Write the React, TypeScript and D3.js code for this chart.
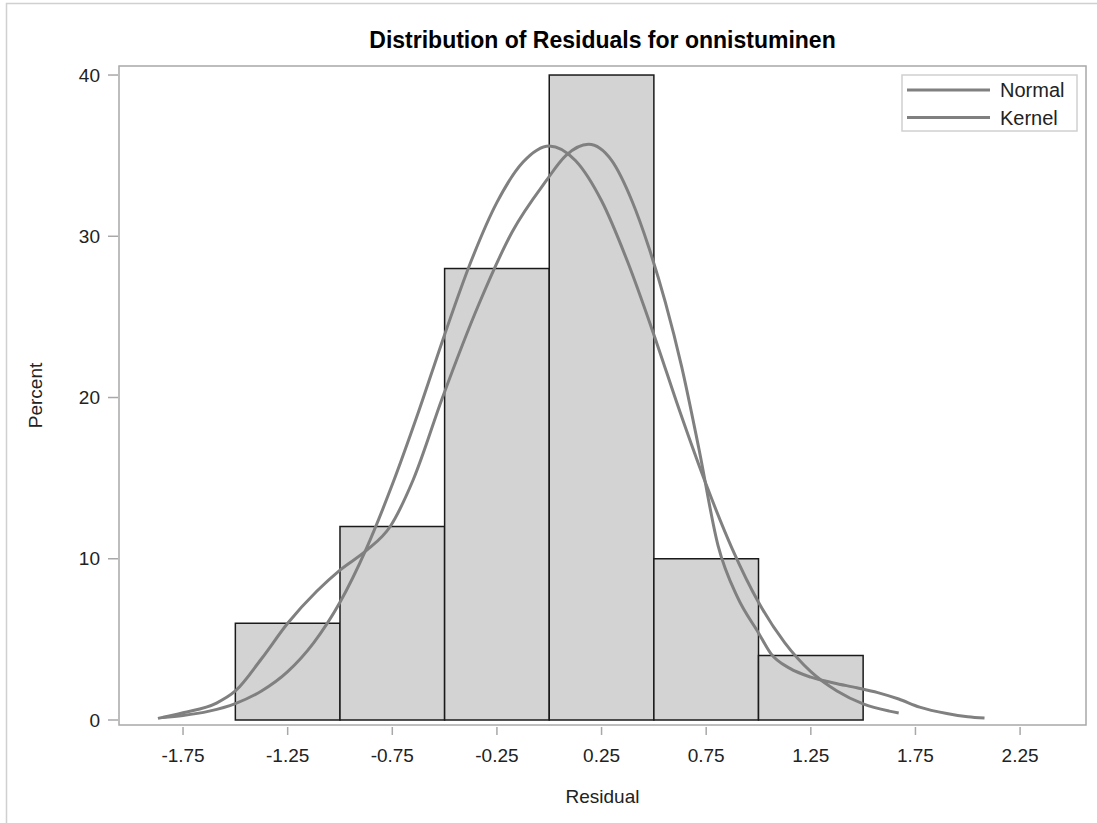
import * as d3 from 'd3';

// histogram bins (left edge, right edge) and percent
const binStarts = [-1.5, -1.0, -0.5, 0.0, 0.5, 1.0];
const binWidth = 0.5;
const binPercent = [6, 12, 28, 40, 10, 4];

// normal density curve (percent)
const normalX = [-1.85, -1.75, -1.625, -1.5, -1.375, -1.25, -1.125, -1.0, -0.875, -0.75, -0.625, -0.5, -0.375, -0.25, -0.125, 0.0,
  0.125, 0.25, 0.375, 0.5, 0.625, 0.75, 0.875, 1.0, 1.125, 1.25, 1.375, 1.5, 1.625, 1.67];
const normalY = [0.16, 0.28, 0.55, 1.02, 1.8, 3.0, 4.8, 7.3, 10.6, 14.6, 19.1, 23.9, 28.4, 32.1, 34.6, 35.6,
  34.7, 32.2, 28.4, 23.9, 19.1, 14.6, 10.6, 7.3, 4.8, 3.0, 1.8, 1.0, 0.55, 0.43];

// kernel density curve (percent)
const kernelX = [-1.87, -1.75, -1.59, -1.5, -1.375, -1.25, -1.11, -1.0, -0.875, -0.76, -0.65, -0.51, -0.336, -0.176, -0.017, 0.079, 0.188,
  0.298, 0.395, 0.476, 0.555, 0.633, 0.714, 0.807, 0.9, 1.0, 1.06, 1.15, 1.25, 1.36, 1.47, 1.57, 1.67, 1.77, 1.9, 2.0, 2.08];
const kernelY = [0.1, 0.45, 1.05, 1.8, 3.8, 6.0, 8.0, 9.3, 10.5, 12.0, 14.9, 20.0, 25.8, 30.3, 33.4, 35.0, 35.7,
  34.7, 32.2, 29.3, 25.9, 21.9, 16.9, 10.8, 7.6, 5.4, 4.1, 3.2, 2.66, 2.3, 2.0, 1.7, 1.3, 0.8, 0.4, 0.2, 0.12];

const xTicks = [-1.75, -1.25, -0.75, -0.25, 0.25, 0.75, 1.25, 1.75, 2.25];
const yTicks = [0, 10, 20, 30, 40];
const legendNames = ['Normal', 'Kernel'];

const W = 1097;
const H = 823;
const plot = { left: 119, right: 1086, top: 66, bottom: 725 };
const font = '"Liberation Sans", Arial, sans-serif';
const curveColor = '#808080';

export default function App() {
  const x = d3.scaleLinear().domain([-2.056, 2.565]).range([plot.left, plot.right]);
  const y = d3.scaleLinear().domain([-0.31, 40.56]).range([plot.bottom, plot.top]);

  const line = d3.line<[number, number]>()
    .x(d => x(d[0]))
    .y(d => y(d[1]))
    .curve(d3.curveMonotoneX);

  const normalPath = line(normalX.map((v, i) => [v, normalY[i]] as [number, number])) || '';
  const kernelPath = line(kernelX.map((v, i) => [v, kernelY[i]] as [number, number])) || '';

  return (
    <svg width={W} height={H} style={{ position: 'absolute', left: 0, top: 0, background: '#fff' }} fontFamily={font}>
      {/* outer graph border */}
      <rect x={6.5} y={3.5} width={W + 10} height={H + 10} fill="none" stroke="#d0d0d0" strokeWidth={1.5} />

      <text x={(plot.left + plot.right) / 2} y={48} textAnchor="middle" fontSize={23} fontWeight="bold" fill="#000">
        Distribution of Residuals for onnistuminen
      </text>

      {/* bars */}
      {binStarts.map((b, i) => (
        <rect key={i} x={x(b)} y={y(binPercent[i])} width={x(b + binWidth) - x(b)} height={y(0) - y(binPercent[i])}
          fill="#d3d3d3" stroke="#1a1a1a" strokeWidth={1.5} />
      ))}

      {/* curves */}
      <path d={normalPath} fill="none" stroke={curveColor} strokeWidth={3} strokeLinejoin="round" />
      <path d={kernelPath} fill="none" stroke={curveColor} strokeWidth={3} strokeLinejoin="round" />

      {/* plot frame */}
      <rect x={plot.left} y={plot.top} width={plot.right - plot.left} height={plot.bottom - plot.top}
        fill="none" stroke="#a8a8a8" strokeWidth={1.5} />

      {/* x axis */}
      {xTicks.map(t => (
        <g key={t}>
          <line x1={x(t)} x2={x(t)} y1={plot.bottom + 2} y2={plot.bottom + 10} stroke="#a8a8a8" strokeWidth={1.5} />
          <text x={x(t)} y={762} textAnchor="middle" fontSize={19} fill="#222">{t.toFixed(2)}</text>
        </g>
      ))}
      <text x={(plot.left + plot.right) / 2} y={803} textAnchor="middle" fontSize={19} fill="#222">Residual</text>

      {/* y axis */}
      {yTicks.map(t => (
        <g key={t}>
          <line x1={plot.left - 11} x2={plot.left - 1} y1={y(t)} y2={y(t)} stroke="#a8a8a8" strokeWidth={1.5} />
          <text x={plot.left - 19} y={y(t)} dy="0.35em" textAnchor="end" fontSize={19} fill="#222">{t}</text>
        </g>
      ))}
      <text transform={`translate(42,${(plot.top + plot.bottom) / 2}) rotate(-90)`} textAnchor="middle" fontSize={19} fill="#222">
        Percent
      </text>

      {/* legend */}
      <rect x={902} y={75} width={175} height={56} fill="#fff" stroke="#d0d0d0" strokeWidth={1.5} />
      {legendNames.map((n, i) => (
        <g key={n}>
          <line x1={907} x2={990} y1={90 + i * 27.5} y2={90 + i * 27.5} stroke={curveColor} strokeWidth={3} />
          <text x={1000} y={90 + i * 27.5} dy="0.35em" fontSize={20} fill="#222">{n}</text>
        </g>
      ))}
    </svg>
  );
}
